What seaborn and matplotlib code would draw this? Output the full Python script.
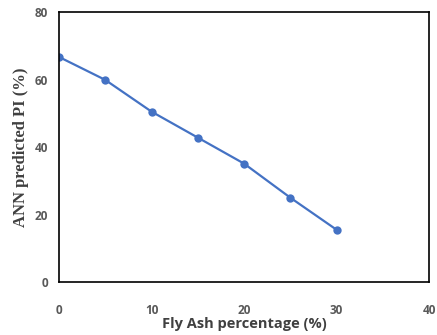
import pandas as pd
import matplotlib
matplotlib.use("Agg")
import matplotlib.pyplot as plt
import seaborn as sns

# values
fly_ash = [0, 5, 10, 15, 20, 25, 30]
predicted_pi = [66.7, 59.9, 50.5, 42.8, 35.1, 25.0, 15.5]
x_ticks = [0, 10, 20, 30, 40]
y_ticks = [0, 20, 40, 60, 80]

df = pd.DataFrame({"fly_ash": fly_ash, "pi": predicted_pi})

sns.set_style("white")

fig = plt.figure(figsize=(4.37, 3.35), dpi=100)
ax = fig.add_axes([0.135, 0.158, 0.847, 0.806])

sns.lineplot(data=df, x="fly_ash", y="pi", ax=ax, color="#4472C4",
             linewidth=1.6, marker="o", markersize=6, markeredgewidth=0)

ax.set_xlim(0, 40)
ax.set_ylim(0, 80)
ax.set_xticks(x_ticks)
ax.set_yticks(y_ticks)

for s in ax.spines.values():
    s.set_color("black")
    s.set_linewidth(1.2)
    s.set_visible(True)

ax.tick_params(axis="both", length=0, labelsize=8.5, labelcolor="#595959")
ax.tick_params(axis="x", pad=16)
ax.tick_params(axis="y", pad=8)
for lbl in ax.get_xticklabels() + ax.get_yticklabels():
    lbl.set_fontfamily("Open Sans")
    lbl.set_fontweight("bold")

ax.set_xlabel("Fly Ash percentage (%)", fontfamily="Open Sans", fontweight="bold",
              fontsize=10.5, color="#404040", labelpad=0)
ax.set_ylabel("ANN predicted PI (%)", fontfamily="Liberation Serif", fontweight="bold",
              fontsize=12, color="#404040", labelpad=4)

fig.savefig("out.png", dpi=100)
